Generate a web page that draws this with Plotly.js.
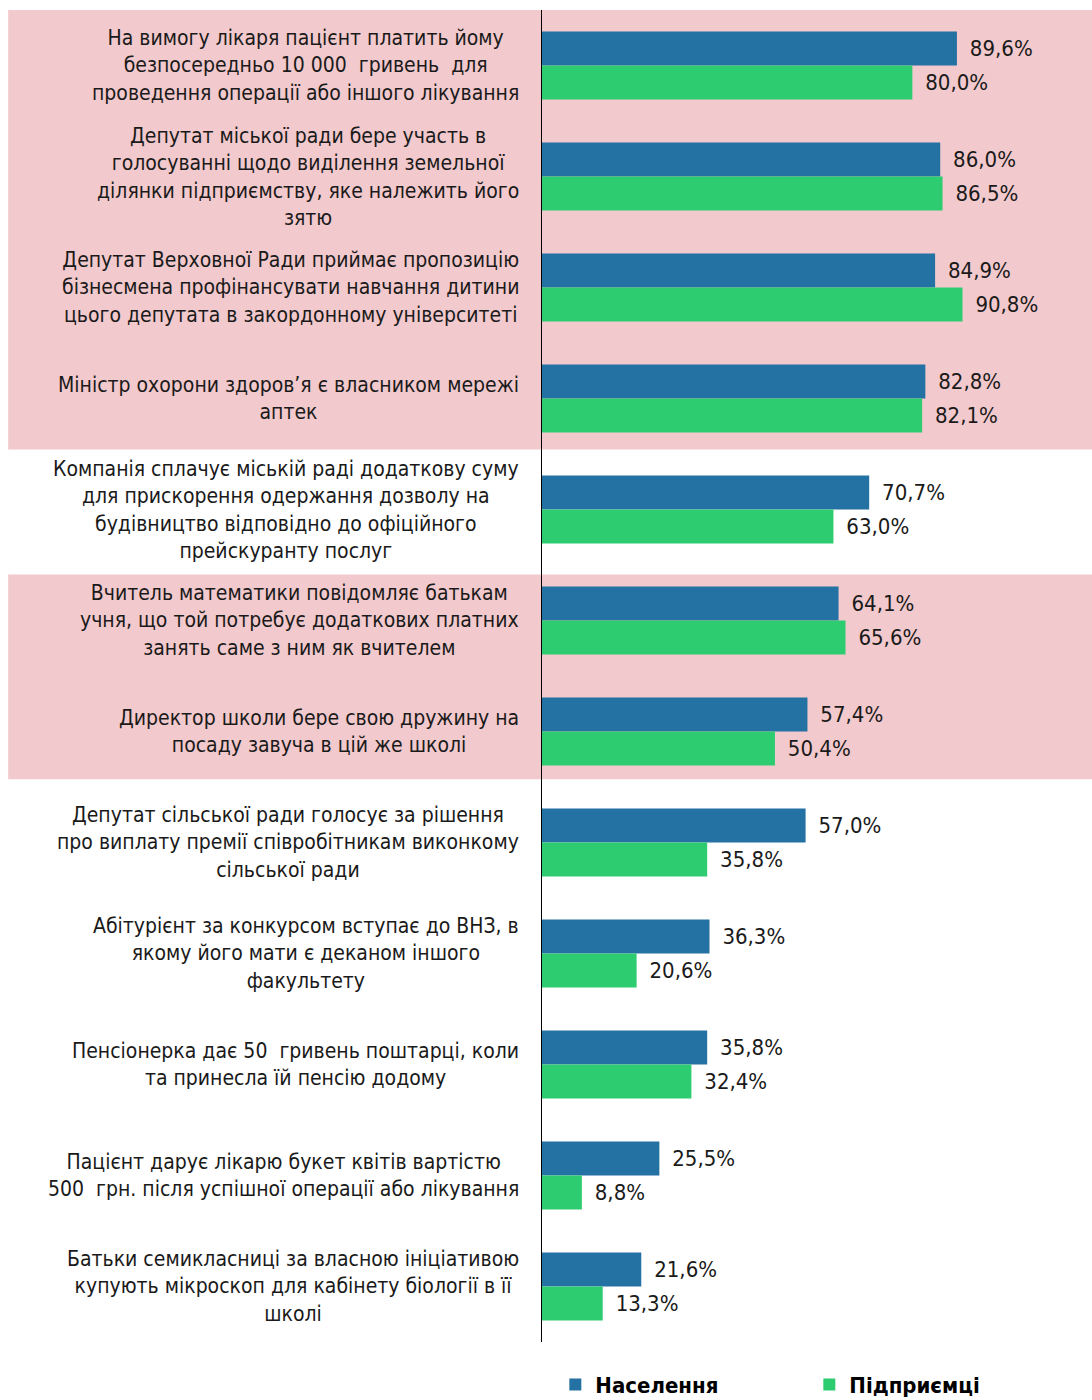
<!DOCTYPE html>
<html><head><meta charset="utf-8">
<script src="https://cdn.plot.ly/plotly-3.0.1.min.js"></script>
<style>html,body{margin:0;padding:0;background:#fff}#chart{width:1092px;height:1400px}</style>
</head><body><div id="chart"></div>
<script>
const categories = [
  "На вимогу лікаря пацієнт платить йому<br>безпосередньо 10 000  гривень  для<br>проведення операції або іншого лікування",
  "Депутат міської ради бере участь в<br>голосуванні щодо виділення земельної<br>ділянки підприємству, яке належить його<br>зятю",
  "Депутат Верховної Ради приймає пропозицію<br>бізнесмена профінансувати навчання дитини<br>цього депутата в закордонному університеті",
  "Міністр охорони здоров’я є власником мережі<br>аптек",
  "Компанія сплачує міській раді додаткову суму<br>для прискорення одержання дозволу на<br>будівництво відповідно до офіційного<br>прейскуранту послуг",
  "Вчитель математики повідомляє батькам<br>учня, що той потребує додаткових платних<br>занять саме з ним як вчителем",
  "Директор школи бере свою дружину на<br>посаду завуча в цій же школі",
  "Депутат сільської ради голосує за рішення<br>про виплату премії співробітникам виконкому<br>сільської ради",
  "Абітурієнт за конкурсом вступає до ВНЗ, в<br>якому його мати є деканом іншого<br>факультету",
  "Пенсіонерка дає 50  гривень поштарці, коли<br>та принесла їй пенсію додому",
  "Пацієнт дарує лікарю букет квітів вартістю<br>500  грн. після успішної операції або лікування",
  "Батьки семикласниці за власною ініціативою<br>купують мікроскоп для кабінету біології в її<br>школі"
];
const seriesNames = ["Населення", "Підприємці"];
const population = [89.6, 86.0, 84.9, 82.8, 70.7, 64.1, 57.4, 57.0, 36.3, 35.8, 25.5, 21.6];
const entrepreneurs = [80.0, 86.5, 90.8, 82.1, 63.0, 65.6, 50.4, 35.8, 20.6, 32.4, 8.8, 13.3];
const highlightedGroups = [[0, 3], [5, 6]];

const idx = categories.map((c, i) => i);
const labelFont = {family: "DejaVu Sans Condensed, DejaVu Sans, sans-serif", size: 21, color: "#1a1a1a"};
const valueFont = {family: "DejaVu Sans Condensed, DejaVu Sans, sans-serif", size: 22, color: "#1a1a1a"};

function barTrace(name, values, color) {
  return {
    type: "bar", orientation: "h", name: name,
    x: values, y: idx,
    marker: {color: color},
    text: values.map(v => v.toFixed(1).replace(".", ",") + "%"),
    texttemplate: "\u2002%{text}",
    textposition: "outside", cliponaxis: false, constraintext: "none",
    textfont: valueFont,
    hoverinfo: "skip"
  };
}

const traces = [
  barTrace(seriesNames[0], population, "#2471a3"),
  barTrace(seriesNames[1], entrepreneurs, "#2ecc71")
];

const shapes = highlightedGroups.map((g, k) => ({
  type: "rect", layer: "below", xref: "paper", yref: "y",
  x0: -0.967, x1: 1,
  y0: g[0] - 0.5 + (k === 1 ? 0.085 : 0), y1: g[1] + 0.5 - (k === 0 ? 0.04 : 0.07),
  fillcolor: "#f2c9cc", line: {width: 0}
}));
shapes.push({type: "line", xref: "x", yref: "paper", x0: 0, x1: 0, y0: 0, y1: 1,
  line: {color: "#000", width: 2}});

const annotations = categories.map((c, i) => ({
  xref: "paper", yref: "y", x: 0, y: i, xanchor: "right", yanchor: "middle",
  xshift: -20, align: "center", showarrow: false, text: c, font: labelFont
}));

const layout = {
  width: 1092, height: 1400,
  margin: {l: 541, r: 0, t: 10, b: 58, autoexpand: false},
  paper_bgcolor: "#fff", plot_bgcolor: "rgba(0,0,0,0)",
  barmode: "group", bargap: 0.387, bargroupgap: 0,
  showlegend: true,
  legend: {orientation: "h", x: 0.026, xanchor: "left", y: -0.032, yanchor: "middle",
    font: {family: "DejaVu Sans Condensed, DejaVu Sans, sans-serif", size: 22, weight: "bold", color: "#000"},
    entrywidth: 209, entrywidthmode: "pixels", itemwidth: 30, traceorder: "normal"},
  xaxis: {range: [0, 118.7], showgrid: false, zeroline: false, showticklabels: false, ticks: "", showline: false, fixedrange: true},
  yaxis: {range: [11.5, -0.5], showgrid: false, zeroline: false, showticklabels: false, ticks: "", showline: false, fixedrange: true},
  shapes: shapes,
  annotations: annotations
};

Plotly.newPlot("chart", traces, layout, {displayModeBar: false, staticPlot: true});
</script>
</body></html>
